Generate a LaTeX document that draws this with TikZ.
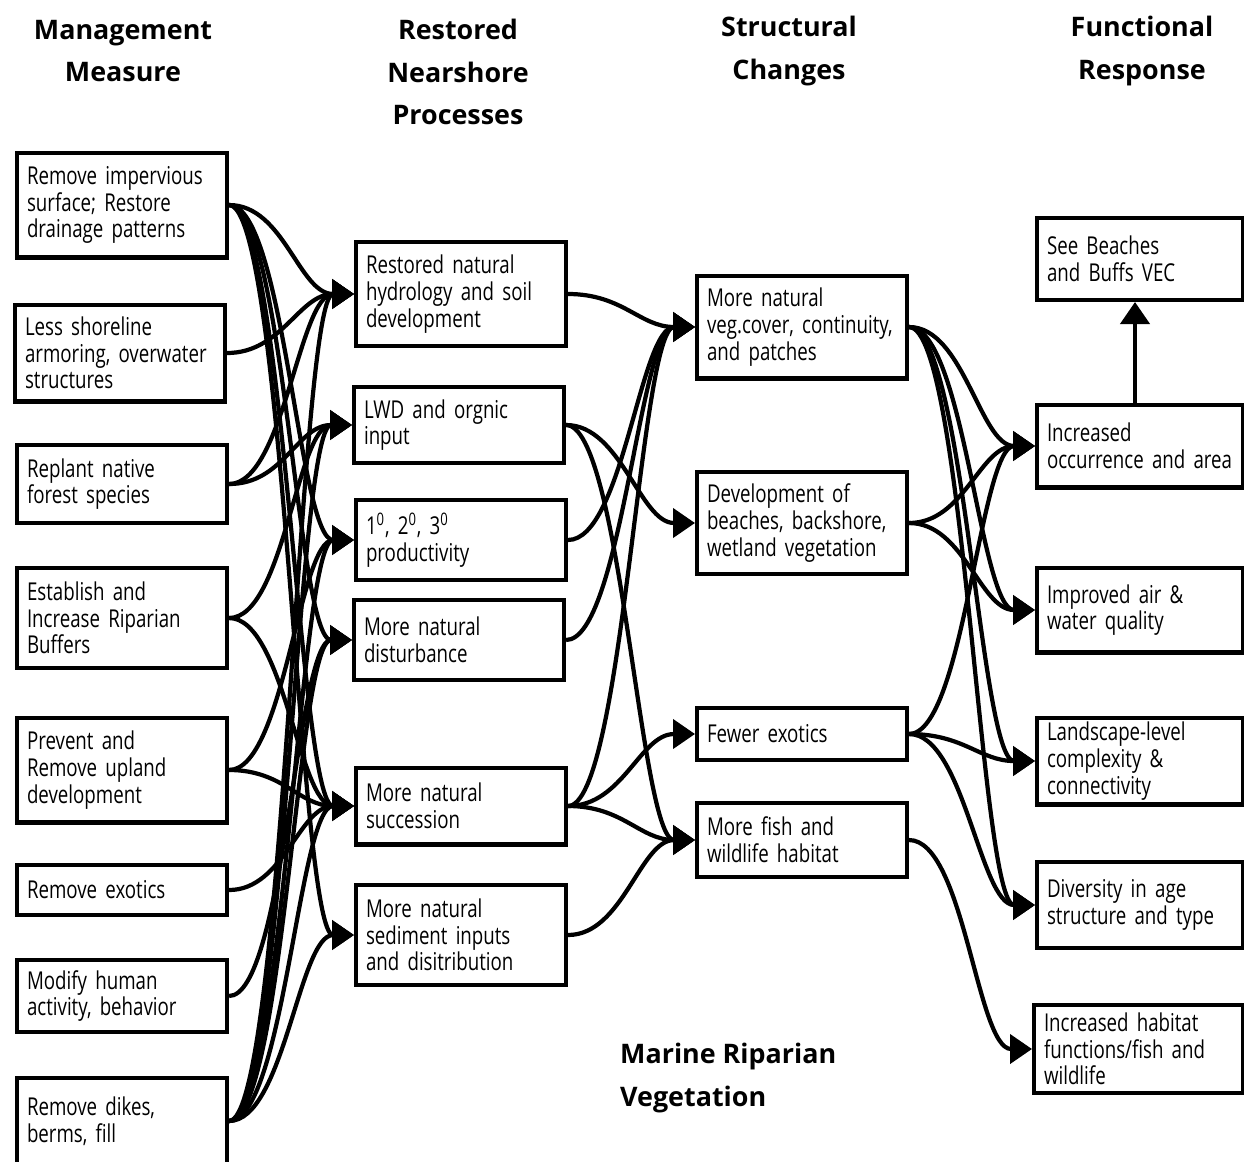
\documentclass[tikz,border=0pt]{standalone}
\usepackage{fontspec}
\setmainfont{Open Sans}
\newfontfamily\condfont[FakeStretch=0.76]{Open Sans}
\usetikzlibrary{arrows.meta}
\newcommand\boxtext{\condfont\fontsize{14pt}{15.2pt}\selectfont\spaceskip=2.6pt\relax}

\tikzset{
  box/.style={draw, line width=2.3pt, anchor=west, align=left,
    text width=3.8cm, inner xsep=0.2cm, inner ysep=0pt, minimum height=#1,
    font=\boxtext},
  head/.style={align=center, font=\bfseries\fontsize{15.3pt}{24.4pt}\selectfont},
  link/.style={line width=2.4pt, -{Triangle[length=0.44cm,width=0.58cm]},
    out=0, in=180, distance=1.1cm}
}

\begin{document}
\begin{tikzpicture}[x=0.02cm,y=-0.02cm]
\useasboundingbox (0,0) rectangle (1244,1161);
\clip (0,0) rectangle (1244,1161);

% column headings
\node[head] (h1) at (123,51) {Management\\Measure};
\node[head] (h2) at (458,72) {Restored\\Nearshore\\Processes};
\node[head] (h3) at (789,51) {Structural\\Changes};
\node[head] (h4) at (1142,51) {Functional\\Response};
\node[head, anchor=west, align=left] (h5) at (614,1078) {Marine Riparian\\Vegetation};

% management measures
\node[box=2.1cm] (mm1) at (15,205) {Remove impervious\\surface; Restore\\drainage patterns};
\node[box=1.94cm] (mm2) at (13,353) {Less shoreline\\armoring, overwater\\structures};
\node[box=1.56cm] (mm3) at (15,484) {Replant native\\forest species};
\node[box=2cm] (mm4) at (15,618) {Establish and\\Increase Riparian\\Buffers};
\node[box=2.1cm] (mm5) at (15,770) {Prevent and\\Remove upland\\development};
\node[box=1cm] (mm6) at (15,890) {Remove exotics};
\node[box=1.44cm] (mm7) at (15,996) {Modify human\\activity, behavior};
\node[box=1.74cm] (mm8) at (15,1121) {Remove dikes,\\berms, fill};

% nearshore processes
\node[box=2.08cm] (np1) at (354,294) {Restored natural\\hydrology and soil\\development};
\node[box=1.52cm] (np2) at (352,425) {LWD and orgnic\\input};
\node[box=1.6cm] (np3) at (354,540) {1\textsuperscript{0}, 2\textsuperscript{0}, 3\textsuperscript{0}\\productivity};
\node[box=1.6cm] (np4) at (352,640) {More natural\\disturbance};
\node[box=1.54cm] (np5) at (354,806) {More natural\\succession};
\node[box=2cm] (np6) at (354,935) {More natural\\sediment inputs\\and disitribution};

% structural changes
\node[box=2.06cm] (ns1) at (695,327) {More natural\\veg.cover, continuity,\\and patches};
\node[box=2.04cm] (ns2) at (695,523) {Development of\\beaches, backshore,\\wetland vegetation};
\node[box=1.04cm] (ns3) at (695,734) {Fewer exotics};
\node[box=1.48cm] (ns4) at (695,840) {More fish and\\wildlife habitat};

% functional response
\node[box=1.64cm, text width=3.72cm] (nf0) at (1035,259) {See Beaches\\and Buffs VEC};
\node[box=1.66cm, text width=3.72cm] (nf1) at (1035,446) {Increased\\occurrence and area};
\node[box=1.7cm, text width=3.72cm] (nf2) at (1035,610) {Improved air \&\\water quality};
\node[box=1.74cm, text width=3.72cm] (nf3) at (1035,761) {Landscape-level\\complexity \&\\connectivity};
\node[box=1.72cm, text width=3.72cm] (nf4) at (1035,905) {Diversity in age\\structure and type};
\node[box=1.76cm, text width=3.78cm] (nf5) at (1032,1049) {Increased habitat\\functions/fish and\\wildlife};

% links
\foreach \a/\b in {mm1/np1, mm1/np3, mm1/np4, mm1/np5, mm1/np6,
                   mm2/np1, mm3/np1, mm3/np2, mm4/np2, mm4/np5,
                   mm5/np3, mm5/np5, mm6/np5, mm7/np4,
                   mm8/np1, mm8/np2, mm8/np3, mm8/np4, mm8/np5, mm8/np6}
  \draw[link] (\a.east) to (\b.west);

\foreach \a/\b in {np1/ns1, np2/ns2, np2/ns4, np3/ns1, np4/ns1,
                   np5/ns1, np5/ns3, np5/ns4, np6/ns4}
  \draw[link] (\a.east) to (\b.west);

\foreach \a/\b in {ns1/nf1, ns1/nf2, ns1/nf3, ns1/nf4,
                   ns2/nf1, ns2/nf2, ns3/nf1, ns3/nf3, ns3/nf4, ns4/nf5}
  \draw[link] (\a.east) to (\b.west);

\draw[link] ([xshift=-0.1cm]nf1.north) -- ([xshift=-0.1cm]nf0.south);
\end{tikzpicture}
\end{document}
